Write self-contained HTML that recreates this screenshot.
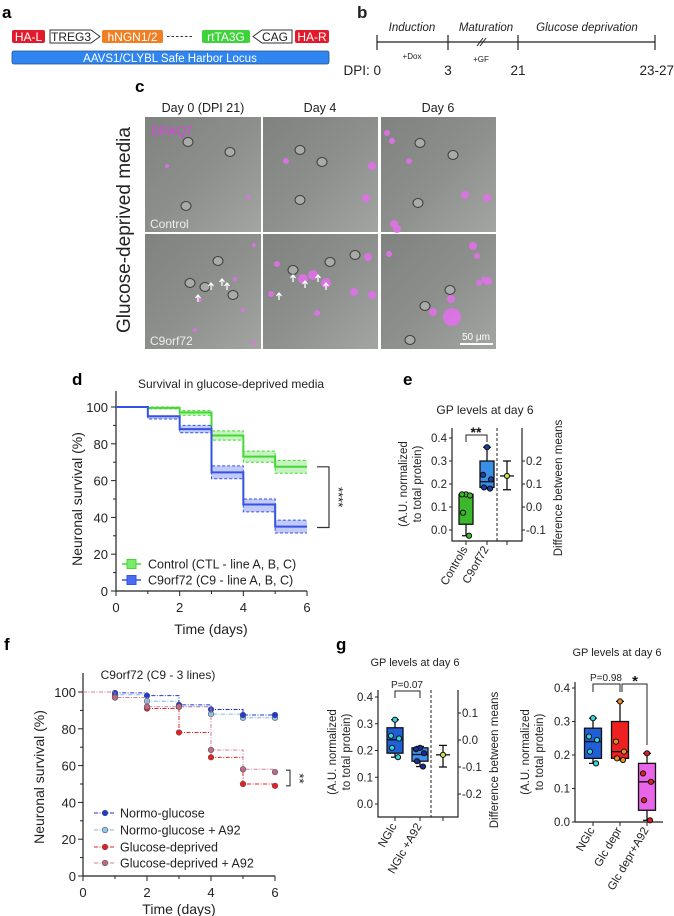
<!DOCTYPE html>
<html><head><meta charset="utf-8">
<style>
html,body{margin:0;padding:0;background:#fff;}
svg{display:block;font-family:"Liberation Sans",Arial,sans-serif;}
</style></head>
<body>
<svg id="fig" width="674" height="916" viewBox="0 0 674 916" xmlns="http://www.w3.org/2000/svg">
<defs>
<linearGradient id="mg" x1="0" y1="0" x2="1" y2="1"><stop offset="0" stop-color="#7f827f"/><stop offset="0.5" stop-color="#8c8f8c"/><stop offset="1" stop-color="#a2a5a2"/></linearGradient>
</defs>
<!-- Panel a -->
<g>
<text x="2" y="18" font-size="17" font-weight="bold">a</text>
<rect x="12" y="30" width="33" height="13" rx="2" fill="#e21b2c"/>
<text x="28.5" y="41" font-size="12" fill="#fff" text-anchor="middle">HA-L</text>
<path d="M50,30 H91 L100,36.5 L91,43 H50 Z" fill="#fff" stroke="#333" stroke-width="1"/>
<text x="71" y="41" font-size="12" fill="#222" text-anchor="middle">TREG3</text>
<rect x="102" y="30" width="61" height="13" rx="2" fill="#f07e22"/>
<text x="132.5" y="41" font-size="12" fill="#fff" text-anchor="middle">hNGN1/2</text>
<line x1="167" y1="36.5" x2="193" y2="36.5" stroke="#333" stroke-dasharray="2.5,2"/>
<rect x="202" y="30" width="48" height="13" rx="2" fill="#3ed33a"/>
<text x="226" y="41" font-size="12" fill="#fff" text-anchor="middle">rtTA3G</text>
<path d="M292,30 H262 L253,36.5 L262,43 H292 Z" fill="#fff" stroke="#333" stroke-width="1"/>
<text x="275" y="41" font-size="12" fill="#222" text-anchor="middle">CAG</text>
<rect x="295" y="30" width="34" height="13" rx="2" fill="#e21b2c"/>
<text x="312" y="41" font-size="12" fill="#fff" text-anchor="middle">HA-R</text>
<rect x="12" y="51" width="317" height="13" rx="2" fill="#2f86f0" stroke="#2a4f88" stroke-width="0.8"/>
<text x="170" y="62" font-size="11.5" fill="#fff" text-anchor="middle">AAVS1/CLYBL Safe Harbor Locus</text>
</g>
<!-- Panel b -->
<g fill="#222">
<text x="357" y="18" font-size="17" font-weight="bold">b</text>
<line x1="377" y1="42" x2="655" y2="42" stroke="#222" stroke-width="1.2"/>
<line x1="377" y1="35" x2="377" y2="50" stroke="#222" stroke-width="1.2"/>
<line x1="448" y1="35" x2="448" y2="50" stroke="#222" stroke-width="1.2"/>
<line x1="518" y1="35" x2="518" y2="50" stroke="#222" stroke-width="1.2"/>
<line x1="655" y1="35" x2="655" y2="50" stroke="#222" stroke-width="1.2"/>
<text x="412" y="31" font-size="11.5" font-style="italic" text-anchor="middle">Induction</text>
<text x="486" y="31" font-size="11.5" font-style="italic" text-anchor="middle">Maturation</text>
<text x="587" y="31" font-size="11.5" font-style="italic" text-anchor="middle">Glucose deprivation</text>
<text x="412" y="59" font-size="8" text-anchor="middle">+Dox</text>
<text x="481" y="62" font-size="8" text-anchor="middle">+GF</text>
<line x1="477" y1="46" x2="483" y2="38" stroke="#222"/><line x1="480" y1="46" x2="486" y2="38" stroke="#222"/>
<text x="381" y="75" font-size="13.5" text-anchor="end">DPI: 0</text>
<text x="448" y="75" font-size="13.5" text-anchor="middle">3</text>
<text x="518" y="75" font-size="13.5" text-anchor="middle">21</text>
<text x="674" y="75" font-size="13.5" text-anchor="end">23-27</text>
</g>
<!-- Panel c -->
<g id="panelC">
<text x="135" y="92" font-size="17" font-weight="bold">c</text>
<text x="203" y="112" font-size="12.5" text-anchor="middle" fill="#222">Day 0 (DPI 21)</text>
<text x="320" y="112" font-size="12.5" text-anchor="middle" fill="#222">Day 4</text>
<text x="438" y="112" font-size="12.5" text-anchor="middle" fill="#222">Day 6</text>
<text transform="translate(130,230) rotate(-90)" font-size="19" text-anchor="middle" fill="#222">Glucose-deprived media</text>
</g>
<!-- Panel d -->
<g id="panelD">
<text x="72" y="385" font-size="17" font-weight="bold">d</text>
<text x="231" y="388" font-size="12" text-anchor="middle" fill="#222">Survival in glucose-deprived media</text>
</g>
<!-- Panel e -->
<g id="panelE">
<text x="403" y="385" font-size="17" font-weight="bold">e</text>
<text x="485" y="414" font-size="12" text-anchor="middle" fill="#222">GP levels at day 6</text>
</g>
<!-- Panel f -->
<g id="panelF">
<text x="4" y="650" font-size="17" font-weight="bold">f</text>
</g>
<!-- Panel g -->
<g id="panelG">
<text x="336" y="650" font-size="17" font-weight="bold">g</text>
<text x="415" y="666" font-size="11" text-anchor="middle" fill="#222">GP levels at day 6</text>
<text x="617" y="656" font-size="11" text-anchor="middle" fill="#222">GP levels at day 6</text>
</g>
</svg>
<script>
// ---- Panel d data ----
const dDays = [0,1,2,3,4,5];
const ctlMean = [100,99.5,97,84.5,73,67.5];
const ctlHi = [100,100,98,87,76,71];
const ctlLo = [100,99,95.5,82,70,64];
const c9Mean = [100,95,88,64.5,47,35];
const c9Hi = [100,95,90,68,50,38.5];
const c9Lo = [100,93.5,86,61,43,31.5];
const dXTicks = [0,2,4,6];
const dYTicks = [0,20,40,60,80,100];
// ---- Panel e data ----
const eCats = ["Controls","C9orf72"];
const eBoxes = [[-0.025,0.025,0.15,0.155,0.155],[0.18,0.185,0.21,0.30,0.36]];
const ePoints = [[0.155,0.155,0.15,0.075,-0.025],[0.36,0.24,0.22,0.185,0.18]];
const eDiff = [0.135,0.075,0.2];
const eYTicks = [0.0,0.1,0.2,0.3,0.4];
const eRTicks = [-0.1,0.0,0.1,0.2];
// ---- Panel f data ----
const fDays = [1,2,3,4,5,6];
const fNormo = [99.5,98,93,90.5,87.5,87.5];
const fNormoA92 = [98.5,95,92,88,86,86];
const fGlc = [97,91,78,64.5,50,49];
const fGlcA92 = [97,92,92,68.5,58,56.5];
const fXTicks = [0,2,4,6];
const fYTicks = [0,20,40,60,80,100];
// ---- Panel g data ----
const g1Cats = ["NGlc","NGlc +A92"];
const g1Boxes = [[0.175,0.19,0.24,0.285,0.315],[0.14,0.16,0.185,0.21,0.215]];
const g1Points = [[0.315,0.255,0.245,0.21,0.175],[0.21,0.205,0.19,0.16,0.14]];
const g1Diff = [-0.055,-0.1,-0.02];
const g1YTicks = [0.0,0.1,0.2,0.3,0.4];
const g1RTicks = [-0.2,-0.1,0.0,0.1];
const g2Cats = ["NGlc","Glc depr","Glc depr+A92"];
const g2Boxes = [[0.175,0.19,0.24,0.28,0.31],[0.185,0.19,0.21,0.30,0.36],[0.005,0.035,0.12,0.175,0.205]];
const g2Points = [[0.31,0.255,0.245,0.21,0.175],[0.36,0.24,0.21,0.19,0.185],[0.205,0.145,0.12,0.065,0.005]];
const g2YTicks = [0.0,0.1,0.2,0.3,0.4];

const NS="http://www.w3.org/2000/svg";
function mk(parent,tag,attrs,text){const e=document.createElementNS(NS,tag);for(const k in attrs)e.setAttribute(k,attrs[k]);if(text!==undefined)e.textContent=text;parent.appendChild(e);return e;}
function lin(d0,d1,r0,r1){return v=>r0+(v-d0)*(r1-r0)/(d1-d0);}

// ---- Panel c microscopy ----
(function(){
  const g=document.getElementById('panelC');
  const cols=[[145,116],[263,115],[381,115]], rows=[[117,115],[234,115]];
  const cells=[
   [[[188,142],[230,152],[186,206]],[[300,150],[322,162],[300,200]],[[420,143],[453,155],[418,203]]],
   [[[218,261],[190,283],[205,287],[233,295]],[[293,270],[330,262],[355,255]],[[425,306],[450,290],[410,340]]]];
  const dots=[
   [[[167,166,2],[248,197,2]],[[286,161,3],[372,166,4],[366,198,4]],[[387,133,3],[392,141,3],[409,161,3],[465,195,4],[487,198,4],[394,224,4],[397,229,4]]],
   [[[254,245,2],[235,279,2],[243,310,2],[200,300,2],[253,343,2],[195,330,2]],[[277,264,3],[303,279,5],[313,275,5],[326,283,5],[354,292,4],[368,257,4],[271,294,3],[317,313,3],[372,295,4]],[[389,254,3],[473,246,4],[477,256,3],[479,283,3],[488,281,4],[451,299,4],[433,312,4],[452,317,9],[484,280,3]]]];
  for(let r=0;r<2;r++)for(let c=0;c<3;c++){
    const [x,w]=cols[c],[y,h]=rows[r];
    const im=mk(g,'rect',{x:x,y:y,width:w,height:h,fill:'url(#mg)'});
    
    
    cells[r][c].forEach(p=>mk(g,'ellipse',{cx:p[0],cy:p[1],rx:5,ry:4.5,fill:'#a8aba8',stroke:'#3c3c3c','stroke-width':1}));
    dots[r][c].forEach(p=>mk(g,'circle',{cx:p[0],cy:p[1],r:p[2],fill:'#e070e8',opacity:0.9}));
  }
  [[198,302],[211,290],[222,286],[227,290],[279,300],[293,282],[305,288],[318,282],[326,290]].forEach(p=>{
    mk(g,'path',{d:`M${p[0]},${p[1]} v-7 m-2.5,3 l2.5,-3 l2.5,3`,stroke:'#fff','stroke-width':1.3,fill:'none'});
  });
  mk(g,'text',{x:151,y:135,'font-size':12,fill:'#e040e8'},'DRAQ7');
  mk(g,'text',{x:150,y:228,'font-size':12,fill:'#eee'},'Control');
  mk(g,'text',{x:150,y:345,'font-size':12,fill:'#eee'},'C9orf72');
  mk(g,'text',{x:476,y:340,'font-size':10,fill:'#fff','text-anchor':'middle'},'50 μm');
  mk(g,'line',{x1:460,y1:344,x2:493,y2:344,stroke:'#fff','stroke-width':2});
})();

// ---- Panel d ----
(function(){
  const g=document.getElementById('panelD');
  const sx=lin(0,6,116,307), sy=lin(0,100,591,407);
  mk(g,'line',{x1:116,y1:391,x2:116,y2:591,stroke:'#222','stroke-width':1.2});
  mk(g,'line',{x1:116,y1:591,x2:307,y2:591,stroke:'#222','stroke-width':1.2});
  for(let v=0;v<=100;v+=10)mk(g,'line',{x1:v%20?113:111,y1:sy(v),x2:116,y2:sy(v),stroke:'#222'});
  dYTicks.forEach(v=>mk(g,'text',{x:108,y:sy(v)+5,'font-size':13,'text-anchor':'end',fill:'#222'},v));
  for(let v=0;v<=6;v++)mk(g,'line',{x1:sx(v),y1:591,x2:sx(v),y2:v%2?594:596,stroke:'#222'});
  dXTicks.forEach(v=>mk(g,'text',{x:sx(v),y:612,'font-size':13,'text-anchor':'middle',fill:'#222'},v));
  mk(g,'text',{x:211,y:634,'font-size':14,'text-anchor':'middle',fill:'#222'},'Time (days)');
  mk(g,'text',{transform:'translate(82,499) rotate(-90)','font-size':14,'text-anchor':'middle',fill:'#222'},'Neuronal survival (%)');
  function step(vals){let d=`M${sx(dDays[0])},${sy(vals[0])}`;for(let i=1;i<vals.length;i++)d+=` H${sx(dDays[i])} V${sy(vals[i])}`;return d+` H${sx(6)}`;}
  function series(mean,hi,lo,col,fill,name){
    for(let i=0;i<dDays.length;i++){const x0=sx(dDays[i]),x1=sx(i+1<dDays.length?dDays[i+1]:6);
      const b=mk(g,'rect',{x:x0,y:sy(hi[i]),width:x1-x0,height:sy(lo[i])-sy(hi[i]),fill:fill});
      
      }
    mk(g,'path',{d:step(hi),fill:'none',stroke:col,'stroke-width':1,'stroke-dasharray':'3,2'});
    mk(g,'path',{d:step(lo),fill:'none',stroke:col,'stroke-width':1,'stroke-dasharray':'3,2'});
    const l=mk(g,'path',{d:step(mean),fill:'none',stroke:col,'stroke-width':2});
    
    
  }
  series(ctlMean,ctlHi,ctlLo,'#44d834','rgba(68,216,52,0.3)','control');
  series(c9Mean,c9Hi,c9Lo,'#3552e6','rgba(53,82,230,0.3)','c9orf72');
  mk(g,'path',{d:`M317,${sy(67.5)} H329 V${sy(34.5)} H317`,fill:'none',stroke:'#333','stroke-width':1.2});
  mk(g,'text',{transform:`translate(334,${sy(51)}) rotate(90)`,'font-size':13,'text-anchor':'middle',fill:'#222'},'****');
  [['#44d834','#7aea6a','Control (CTL - line A, B, C)',564],['#3552e6','#4a6af0','C9orf72 (C9 - line A, B, C)',580]].forEach((L,i)=>{
    const le=mk(g,'g',{});
    
    
    mk(le,'line',{x1:122,y1:L[3],x2:141,y2:L[3],stroke:L[0],'stroke-width':1.5});
    mk(le,'rect',{x:127,y:L[3]-4.5,width:9,height:9,fill:L[1],stroke:L[0]});
    mk(le,'text',{x:148,y:L[3]+4.5,'font-size':12.5,fill:'#222'},L[2]);
  });
})();

// ---- box helpers ----
function drawBox(g,cx,w,st,pts,sy,fill,ptFill,name){
  const bg=mk(g,'g',{});
  
  
  mk(bg,'line',{x1:cx,y1:sy(st[0]),x2:cx,y2:sy(st[4]),stroke:'#111','stroke-width':1.3});
  mk(bg,'line',{x1:cx-4,y1:sy(st[0]),x2:cx+4,y2:sy(st[0]),stroke:'#111','stroke-width':1.3});
  mk(bg,'line',{x1:cx-4,y1:sy(st[4]),x2:cx+4,y2:sy(st[4]),stroke:'#111','stroke-width':1.3});
  mk(bg,'rect',{x:cx-w/2,y:sy(st[3]),width:w,height:sy(st[1])-sy(st[3]),fill:fill,stroke:'#111','stroke-width':1.3});
  mk(bg,'line',{x1:cx-w/2,y1:sy(st[2]),x2:cx+w/2,y2:sy(st[2]),stroke:'#111','stroke-width':1.3});
  const offs=[0,-4,4,-3,3];
  pts.forEach((p,i)=>mk(bg,'circle',{cx:cx+offs[i%5],cy:sy(p),r:2.6,fill:ptFill,stroke:'#111','stroke-width':1}));
}
function rotLabel(g,x,y,t,fs){mk(g,'text',{transform:`translate(${x},${y}) rotate(-60)`,'font-size':fs,'text-anchor':'end',fill:'#222'},t);}

// ---- Panel e ----
(function(){
  const g=document.getElementById('panelE');
  const sy=lin(0,0.4,530,438), sr=lin(0,0.1,507,484);
  const cx=[466,487];
  mk(g,'path',{d:'M452,428 V541 H522 V428',fill:'none',stroke:'#222','stroke-width':1.2});
  mk(g,'line',{x1:497,y1:428,x2:497,y2:541,stroke:'#222','stroke-dasharray':'3,2'});
  eYTicks.forEach(v=>{mk(g,'line',{x1:449,y1:sy(v),x2:452,y2:sy(v),stroke:'#222'});mk(g,'text',{x:447,y:sy(v)+4,'font-size':11.5,'text-anchor':'end',fill:'#222'},v.toFixed(1));});
  eRTicks.forEach(v=>{mk(g,'line',{x1:522,y1:sr(v),x2:525,y2:sr(v),stroke:'#222'});mk(g,'text',{x:526,y:sr(v)+4,'font-size':11.5,fill:'#222'},(v<0?'-':'')+Math.abs(v).toFixed(1));});
  [466,487,507].forEach(x=>mk(g,'line',{x1:x,y1:541,x2:x,y2:545,stroke:'#222'}));
  drawBox(g,cx[0],14,eBoxes[0],ePoints[0],sy,'#3cb82c','#3cb82c','box-controls');
  drawBox(g,cx[1],14,eBoxes[1],ePoints[1],sy,'#3a90e6','#1c3ca8','box-c9orf72');
  mk(g,'line',{x1:507,y1:sr(eDiff[1]),x2:507,y2:sr(eDiff[2]),stroke:'#111','stroke-width':1.3});
  mk(g,'line',{x1:503,y1:sr(eDiff[1]),x2:511,y2:sr(eDiff[1]),stroke:'#111','stroke-width':1.3});
  mk(g,'line',{x1:503,y1:sr(eDiff[2]),x2:511,y2:sr(eDiff[2]),stroke:'#111','stroke-width':1.3});
  mk(g,'line',{x1:500,y1:sr(eDiff[0]),x2:514,y2:sr(eDiff[0]),stroke:'#111','stroke-width':1.3});
  mk(g,'circle',{cx:507,cy:sr(eDiff[0]),r:2.6,fill:'#c8e040',stroke:'#111'});
  mk(g,'path',{d:'M466,442 V435 H487 V442',fill:'none',stroke:'#222'});
  mk(g,'text',{x:476,y:437,'font-size':14,'font-weight':'bold','text-anchor':'middle',fill:'#111'},'**');
  rotLabel(g,cx[0]+2,549,eCats[0],11.5);rotLabel(g,cx[1]+2,549,eCats[1],11.5);
  mk(g,'text',{transform:'translate(407,484) rotate(-90)','font-size':11.5,'text-anchor':'middle',fill:'#222'},'(A.U. normalized');
  mk(g,'text',{transform:'translate(421,484) rotate(-90)','font-size':11.5,'text-anchor':'middle',fill:'#222'},'to total protein)');
  mk(g,'text',{transform:'translate(562,488) rotate(-90)','font-size':11.5,'text-anchor':'middle',fill:'#222'},'Difference between means');
})();

// ---- Panel f ----
(function(){
  const g=document.getElementById('panelF');
  const sx=lin(0,6,83,275), sy=lin(0,100,876,692);
  mk(g,'line',{x1:83,y1:673,x2:83,y2:876,stroke:'#222','stroke-width':1.2});
  mk(g,'line',{x1:83,y1:876,x2:275,y2:876,stroke:'#222','stroke-width':1.2});
  for(let v=0;v<=100;v+=10)mk(g,'line',{x1:v%20?80:78,y1:sy(v),x2:83,y2:sy(v),stroke:'#222'});
  fYTicks.forEach(v=>mk(g,'text',{x:76,y:sy(v)+5,'font-size':13,'text-anchor':'end',fill:'#222'},v));
  for(let v=0;v<=6;v++)mk(g,'line',{x1:sx(v),y1:876,x2:sx(v),y2:v%2?879:881,stroke:'#222'});
  fXTicks.forEach(v=>mk(g,'text',{x:sx(v),y:897,'font-size':13,'text-anchor':'middle',fill:'#222'},v));
  mk(g,'text',{x:179,y:914,'font-size':14,'text-anchor':'middle',fill:'#222'},'Time (days)');
  mk(g,'text',{transform:'translate(44,777) rotate(-90)','font-size':14,'text-anchor':'middle',fill:'#222'},'Neuronal survival (%)');
  mk(g,'text',{x:158,y:679,'font-size':12,'text-anchor':'middle',fill:'#222'},'C9orf72 (C9 - 3 lines)');
  function series(vals,line,mark,name){
    let d=`M${sx(0)},${sy(100)}`;
    for(let i=0;i<vals.length;i++)d+=` H${sx(fDays[i])} V${sy(vals[i])}`;
    const l=mk(g,'path',{d:d,fill:'none',stroke:line,'stroke-width':1,'stroke-dasharray':'4,1.5,1,1.5'});
    
    
    vals.forEach((v,i)=>{const c=mk(g,'circle',{cx:sx(fDays[i]),cy:sy(v),r:2.8,fill:mark,stroke:'#555','stroke-width':0.6});
      
      });
  }
  series(fNormoA92,'#7ab8e8','#8cc8f0','normo-glucose-a92');
  series(fNormo,'#2030e0','#1a3ae0','normo-glucose');
  series(fGlc,'#ee2020','#ee1c1c','glucose-deprived');
  series(fGlcA92,'#d08098','#c06888','glucose-deprived-a92');
  mk(g,'path',{d:`M286,${sy(57.5)} H290 V${sy(49)} H286`,fill:'none',stroke:'#333','stroke-width':1.1});
  mk(g,'text',{transform:`translate(295,${sy(53)}) rotate(90)`,'font-size':13,'text-anchor':'middle',fill:'#222'},'**');
  [['#2030e0','#1a3ae0','Normo-glucose',813],['#7ab8e8','#8cc8f0','Normo-glucose + A92',830],['#ee2020','#ee1c1c','Glucose-deprived',847],['#d08098','#c06888','Glucose-deprived + A92',863]].forEach((L,i)=>{
    const le=mk(g,'g',{});
    
    
    mk(le,'line',{x1:94,y1:L[3],x2:115,y2:L[3],stroke:L[0],'stroke-dasharray':'4,1.5,1,1.5'});
    mk(le,'circle',{cx:105,cy:L[3],r:2.8,fill:L[1],stroke:'#555','stroke-width':0.6});
    mk(le,'text',{x:120,y:L[3]+4.5,'font-size':12.5,fill:'#222'},L[2]);
  });
})();

// ---- Panel g ----
(function(){
  const g=document.getElementById('panelG');
  // left
  const sy=lin(0,0.4,804,697), sr=lin(0,0.1,740,713);
  const cx=[395,420];
  mk(g,'path',{d:'M378,690 V817 H458 V690',fill:'none',stroke:'#222','stroke-width':1.2});
  mk(g,'line',{x1:431,y1:690,x2:431,y2:817,stroke:'#222','stroke-dasharray':'3,2'});
  g1YTicks.forEach(v=>{mk(g,'line',{x1:375,y1:sy(v),x2:378,y2:sy(v),stroke:'#222'});mk(g,'text',{x:373,y:sy(v)+4,'font-size':11.5,'text-anchor':'end',fill:'#222'},v.toFixed(1));});
  g1RTicks.forEach(v=>{mk(g,'line',{x1:458,y1:sr(v),x2:461,y2:sr(v),stroke:'#222'});mk(g,'text',{x:462,y:sr(v)+4,'font-size':11.5,fill:'#222'},(v<0?'-':'')+Math.abs(v).toFixed(1));});
  [395,420,443].forEach(x=>mk(g,'line',{x1:x,y1:817,x2:x,y2:821,stroke:'#222'}));
  drawBox(g,cx[0],16,g1Boxes[0],g1Points[0],sy,'#1f5fd8','#30d8e0','box-nglc-left');
  drawBox(g,cx[1],16,g1Boxes[1],g1Points[1],sy,'#3f90ea','#1a2a9a','box-nglc-a92');
  mk(g,'line',{x1:443,y1:sr(g1Diff[1]),x2:443,y2:sr(g1Diff[2]),stroke:'#111','stroke-width':1.3});
  mk(g,'line',{x1:439,y1:sr(g1Diff[1]),x2:447,y2:sr(g1Diff[1]),stroke:'#111','stroke-width':1.3});
  mk(g,'line',{x1:439,y1:sr(g1Diff[2]),x2:447,y2:sr(g1Diff[2]),stroke:'#111','stroke-width':1.3});
  mk(g,'line',{x1:436,y1:sr(g1Diff[0]),x2:450,y2:sr(g1Diff[0]),stroke:'#111','stroke-width':1.3});
  mk(g,'circle',{cx:443,cy:sr(g1Diff[0]),r:2.6,fill:'#c8e040',stroke:'#111'});
  mk(g,'path',{d:'M395,698 V691 H420 V698',fill:'none',stroke:'#222'});
  mk(g,'text',{x:407,y:688,'font-size':10,'text-anchor':'middle',fill:'#222'},'P=0.07');
  rotLabel(g,cx[0]+2,826,g1Cats[0],11.5);rotLabel(g,cx[1]+2,826,g1Cats[1],11.5);
  mk(g,'text',{transform:'translate(336,752) rotate(-90)','font-size':11.5,'text-anchor':'middle',fill:'#222'},'(A.U. normalized');
  mk(g,'text',{transform:'translate(350,752) rotate(-90)','font-size':11.5,'text-anchor':'middle',fill:'#222'},'to total protein)');
  mk(g,'text',{transform:'translate(498,760) rotate(-90)','font-size':11.5,'text-anchor':'middle',fill:'#222'},'Difference between means');
  // right
  const sy2=lin(0,0.4,822,688);
  const cx2=[593,620,647];
  mk(g,'path',{d:'M575,682 V822 H663',fill:'none',stroke:'#222','stroke-width':1.2});
  g2YTicks.forEach(v=>{mk(g,'line',{x1:572,y1:sy2(v),x2:575,y2:sy2(v),stroke:'#222'});mk(g,'text',{x:570,y:sy2(v)+4,'font-size':11.5,'text-anchor':'end',fill:'#222'},v.toFixed(1));});
  cx2.forEach(x=>mk(g,'line',{x1:x,y1:822,x2:x,y2:826,stroke:'#222'}));
  drawBox(g,cx2[0],17,g2Boxes[0],g2Points[0],sy2,'#1f5fd8','#30d8e0','box-nglc-right');
  drawBox(g,cx2[1],17,g2Boxes[1],g2Points[1],sy2,'#ee2020','#f08a20','box-glc-depr');
  drawBox(g,cx2[2],17,g2Boxes[2],g2Points[2],sy2,'#e864e8','#e02020','box-glc-depr-a92');
  mk(g,'path',{d:'M593,692 V684 H620 V692',fill:'none',stroke:'#222'});
  mk(g,'text',{x:606,y:681,'font-size':10,'text-anchor':'middle',fill:'#222'},'P=0.98');
  mk(g,'path',{d:`M622,692 V684 H647 V${sy2(0.23)}`,fill:'none',stroke:'#222'});
  mk(g,'text',{x:635,y:686,'font-size':15,'font-weight':'bold','text-anchor':'middle',fill:'#111'},'*');
  g2Cats.forEach((c,i)=>rotLabel(g,cx2[i]+2,830,c,11.5));
  mk(g,'text',{transform:'translate(529,752) rotate(-90)','font-size':11.5,'text-anchor':'middle',fill:'#222'},'(A.U. normalized');
  mk(g,'text',{transform:'translate(543,752) rotate(-90)','font-size':11.5,'text-anchor':'middle',fill:'#222'},'to total protein)');
})();
</script>
</body></html>
